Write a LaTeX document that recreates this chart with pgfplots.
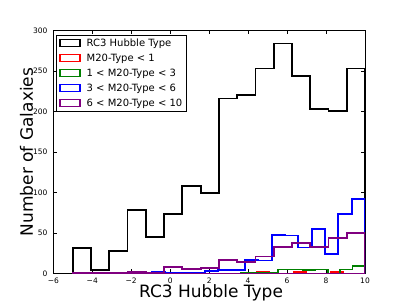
\documentclass[border=0pt]{standalone}
\usepackage{fontspec}
\setmainfont{DejaVu Sans}
\usepackage{pgfplots}
\pgfplotsset{compat=1.18}
\definecolor{mplgreen}{rgb}{0,0.5,0}
\definecolor{mplpurple}{rgb}{0.5,0,0.5}
\begin{document}
\begin{tikzpicture}
\begin{axis}[
  name=ax,
  scale only axis,
  width=311.7pt, height=243pt,
  xmin=-6, xmax=10, ymin=0, ymax=300,
  xtick={-6,-4,-2,0,2,4,6,8,10},
  xticklabels={−6,−4,−2,0,2,4,6,8,10},
  ytick={0,50,100,150,200,250,300},
  /pgf/number format/assume math mode=true,
  tick align=inside, tick pos=both,
  major tick length=4pt,
  tick style={black, line width=0.6pt},
  axis line style={line width=0.8pt},
  xticklabel style={font=\fontsize{7.5}{9}\selectfont, anchor=base, inner sep=0pt, yshift=-10pt},
  yticklabel style={font=\fontsize{7.5}{9}\selectfont, anchor=east, inner sep=0pt, xshift=-5.6pt},
  xlabel={RC3 Hubble Type},
  ylabel={Number of Galaxies},
  xlabel style={font=\fontsize{17}{20}\selectfont, at={(axis description cs:0.506,-0.0996)}, anchor=base, inner sep=0pt},
  ylabel style={font=\fontsize{17}{20}\selectfont, at={(axis description cs:-0.064,0.5)}, anchor=south, inner sep=0pt},
  legend cell align=left,
  legend style={at={(axis description cs:0.0087,0.981)}, anchor=north west,
    font=\fontsize{10}{12}\selectfont, draw=black, line width=0.8pt,
    inner xsep=3pt, inner ysep=2pt,
    nodes={inner sep=1pt, text height=7.5pt, text depth=2pt},
    row sep=3.5pt,
    /tikz/every odd column/.append style={column sep=5pt}},
  legend image code/.code={\draw[#1, fill=none, line width=1.3pt] (0pt,-3.5pt) rectangle (20pt,3.5pt);},
  every axis plot/.append style={const plot, line width=1.8pt, fill=none, line join=miter},
]
% RC3 Hubble Type
\addplot[black] coordinates {
(-5,31) (-4.0625,4) (-3.125,28) (-2.1875,78) (-1.25,45) (-0.3125,73) (0.625,108) (1.5625,99)
(2.5,216) (3.4375,220) (4.375,253) (5.3125,284) (6.25,244) (7.1875,203) (8.125,201) (9.0625,253) (10,253)
} \closedcycle;
\addlegendentry{RC3 Hubble Type}
% M20-Type < 1
\addplot[red] coordinates {
(4.44,2) (5.077,0) (5.714,0) (6.351,2) (6.988,0) (7.625,0) (8.262,2) (8.899,0) (9.536,0)
} \closedcycle;
\addlegendentry{M20-Type < 1}
% 1 < M20-Type < 3
\addplot[mplgreen] coordinates {
(-0.2,0) (0.4375,0) (1.075,0) (1.7125,0) (2.35,0) (2.9875,0) (3.625,1) (4.2625,1) (4.9,1)
(5.5375,5) (6.175,5) (6.8125,4) (7.45,5) (8.0875,0) (8.725,5) (9.3625,9) (10,9)
} \closedcycle;
\addlegendentry{1 < M20-Type < 3}
% 3 < M20-Type < 6
\addplot[blue] coordinates {
(-0.949,2) (-0.265,1) (0.420,1) (1.104,1) (1.788,3) (2.473,4) (3.157,4) (3.841,17) (4.526,16)
(5.210,48) (5.894,47) (6.579,32) (7.263,55) (7.947,24) (8.632,73) (9.316,92) (10,92)
} \closedcycle;
\addlegendentry{3 < M20-Type < 6}
% 6 < M20-Type < 10
\addplot[mplpurple] coordinates {
(-5,1) (-4.0625,1) (-3.125,1) (-2.1875,2) (-1.25,1) (-0.3125,8) (0.625,6) (1.5625,7)
(2.5,17) (3.4375,14) (4.375,21) (5.3125,33) (6.25,38) (7.1875,33) (8.125,44) (9.0625,50) (10,50)
} \closedcycle;
\addlegendentry{6 < M20-Type < 10}
\end{axis}
\pgfresetboundingbox
\path[use as bounding box] ([shift={(-53.3pt,-31.5pt)}]ax.south west) rectangle ([shift={(42pt,30.5pt)}]ax.north east);
\end{tikzpicture}
\end{document}
